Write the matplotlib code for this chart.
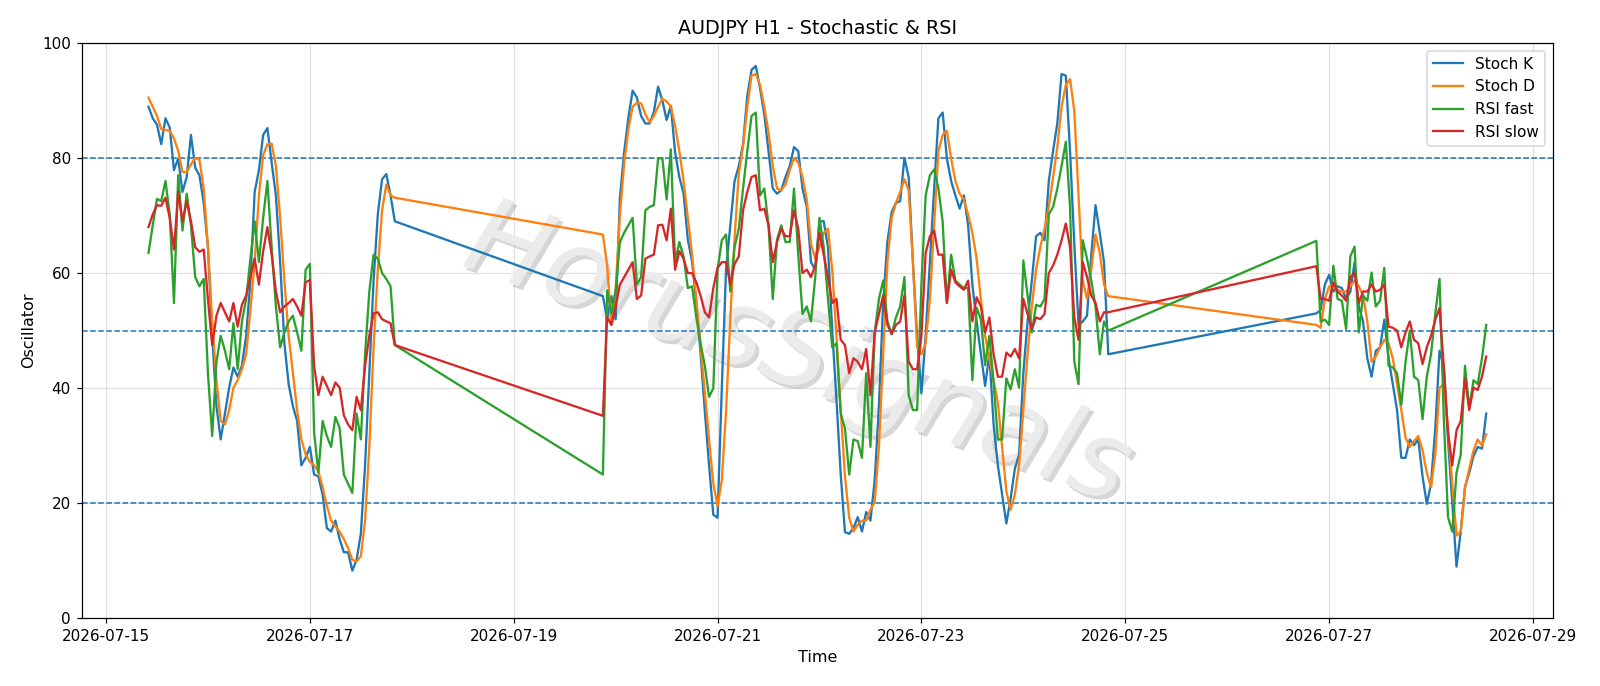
import numpy as np
import pandas as pd
import matplotlib
matplotlib.use("Agg")
import matplotlib.pyplot as plt
import matplotlib.dates as mdates
import matplotlib.patheffects as pe

# ---- data (hourly bars, three trading segments) ----
segment_starts = ["2026-07-15 10:00", "2026-07-19 21:00", "2026-07-26 21:00"]

stoch_k_seg1 = [88.9, 86.9, 85.8, 82.4, 86.9, 85.3, 77.9, 79.9, 74.1, 76.7,
                84.0, 78.3, 77.0, 72.2, 64.5, 49.1, 36.9, 31.1, 35.6, 40.1,
                43.6, 42.0, 43.9, 49.1, 58.7, 74.1, 77.9, 84.0, 85.2, 79.2,
                73.5, 61.9, 47.8, 40.7, 36.9, 34.3, 26.6, 27.9, 29.8, 25.0,
                24.7, 21.5, 15.7, 15.1, 17.0, 13.8, 11.5, 11.5, 8.3, 10.2,
                14.7, 26.6, 42.6, 58.7, 70.2, 76.3, 77.2, 73.5, 69.0]
stoch_d_seg1 = [90.5, 88.9, 87.3, 85.0, 84.9, 84.7, 83.4, 81.2, 77.6, 77.5,
                78.9, 80.0, 79.7, 74.7, 64.5, 51.6, 41.4, 34.3, 33.7, 36.2,
                40.1, 41.4, 43.3, 45.9, 53.6, 61.9, 73.5, 80.5, 82.4, 82.5,
                78.6, 69.6, 58.7, 49.1, 42.6, 36.2, 31.1, 28.5, 27.2, 26.6,
                25.6, 22.8, 19.6, 17.0, 16.0, 15.1, 13.8, 12.2, 10.2, 9.9,
                10.8, 17.0, 29.8, 47.1, 60.6, 70.9, 75.4, 73.5, 73.1]
rsi_fast_seg1 = [63.5, 68.3, 72.9, 72.5, 76.0, 70.2, 54.8, 77.0, 67.4, 73.8,
                 68.3, 59.3, 57.7, 59.0, 42.6, 31.7, 44.6, 49.1, 46.5, 43.3,
                 51.3, 43.3, 51.6, 55.5, 62.5, 69.0, 61.9, 69.6, 76.0, 64.5,
                 54.2, 47.1, 49.7, 51.6, 52.6, 49.7, 46.5, 60.6, 61.6, 32.3,
                 25.3, 34.3, 31.7, 29.8, 35.0, 33.1, 25.0, 23.4, 21.8, 35.6,
                 31.1, 45.9, 56.8, 63.2, 62.5, 60.0, 59.0, 57.7, 47.5]
rsi_slow_seg1 = [68.0, 70.2, 71.8, 71.7, 73.1, 69.6, 64.1, 74.1, 69.0, 72.5,
                 69.0, 64.5, 63.7, 64.1, 55.5, 47.5, 52.6, 54.8, 53.2, 51.6,
                 54.8, 50.7, 54.5, 56.1, 59.3, 62.5, 58.0, 63.8, 68.0, 63.2,
                 56.8, 53.2, 54.2, 54.8, 55.5, 54.2, 52.6, 58.4, 58.8, 43.9,
                 38.8, 42.0, 40.4, 38.8, 41.0, 40.1, 35.3, 33.7, 32.7, 38.5,
                 36.2, 43.9, 49.1, 53.0, 53.2, 52.0, 51.6, 51.3, 47.5]

stoch_k_seg2 = [56, 52, 56, 52, 73, 81, 87, 91.7, 90.5, 87.3,
                86, 86, 88, 92.4, 90, 86.6, 89, 81, 76.7, 73.8,
                65.8, 62, 54.8, 46, 36, 26.6, 18, 17.5, 40, 60.6,
                68.3, 76, 78.6, 82.4, 90.8, 95.3, 96, 92.1, 87.6, 81.2,
                74.7, 73.8, 74.4, 76.7, 78.6, 81.9, 81.2, 74.7, 71.5, 61.9,
                60.6, 69, 69, 64.5, 50, 38, 25, 15, 14.7, 15.7,
                17.6, 15.1, 18.5, 17, 24, 37, 55, 65.5, 70.6, 72.2,
                72.5, 80, 76.7, 61.9, 49, 39.1, 49.1, 61.9, 74.7, 86.9,
                87.9, 79.9, 76, 73.5, 71.2, 73.5, 68.3, 58, 51.6, 46,
                40.4, 46, 33.7, 26.6, 21.5, 16.5, 20.8, 26, 28.5, 42.6,
                51.6, 58.7, 66.4, 67, 65.7, 76, 81.2, 86, 94.6, 94.3,
                81.2, 65.1, 51, 51.6, 52.6, 63.2, 71.8, 67, 61.9, 45.9]
stoch_d_seg2 = [66.7, 61.3, 51, 57, 70, 79, 85, 88.9, 89.6, 89.5,
                87.6, 86.2, 87.3, 88.9, 90.3, 89.8, 89, 85.6, 81.2, 76,
                69.6, 63.2, 55.5, 47.1, 39.4, 31.1, 23.4, 19.5, 24, 36,
                52, 66, 77.3, 82, 88.9, 94.3, 94.6, 92.7, 88.9, 84.4,
                78.6, 74.7, 74.4, 75.4, 77.9, 80, 79.2, 76.7, 72.8, 65.1,
                62.5, 64.5, 67, 67.7, 60.6, 49.1, 36.2, 24.7, 17.5, 15.1,
                16.3, 17, 17, 18.9, 20.2, 29.8, 45.9, 61.9, 69.6, 72.2,
                74.1, 76.3, 74.4, 61.9, 47, 45.9, 47.8, 55.5, 68.3, 81.2,
                84, 84.7, 79.9, 76, 73.8, 72.8, 70.2, 67, 62.5, 55.5,
                49.1, 45.2, 41.4, 37.5, 29.8, 22.1, 18.9, 21.5, 26.6, 36.2,
                45.9, 54.2, 60.6, 64.5, 67.7, 71.5, 76.7, 81.8, 88.9, 92.7,
                93.7, 88.2, 73.5, 58.7, 55.5, 60.6, 66.7, 63.5, 58, 56]
rsi_fast_seg2 = [25, 57, 53, 57, 65.4, 67, 68.3, 69.6, 58, 59.3,
                 70.9, 71.5, 71.8, 79.9, 80, 72.8, 81.5, 61.9, 65.4, 62.9,
                 57.4, 57.7, 52.3, 47.8, 43.9, 38.5, 40, 60.6, 65.7, 66.7,
                 56.8, 64.5, 67.7, 74.7, 81.2, 87.3, 87.9, 73.5, 74.7, 68.3,
                 55.5, 65.8, 68.3, 65.4, 65.4, 74.7, 63.2, 52.9, 54.2, 51.6,
                 59.3, 69.6, 64.5, 55.5, 47.1, 47.8, 35.6, 33, 25, 31.1,
                 30.8, 27.9, 42.6, 29.8, 49.7, 55.5, 58.7, 51.6, 49.4, 52.3,
                 54.2, 59.3, 38.8, 36.2, 36.2, 58, 73.5, 77, 78, 74.7,
                 69, 54.8, 63.2, 58.7, 58, 57.4, 57.4, 41.4, 54, 52,
                 44, 49.1, 41, 31.1, 31.1, 41.7, 39.8, 43.3, 40.1, 62.2,
                 56.1, 49.7, 54.5, 54.2, 55.5, 70.2, 71.5, 74.7, 78.6, 82.8,
                 71.5, 44.6, 40.7, 65.7, 62.5, 58.7, 54.2, 45.9, 51.6, 50]
rsi_slow_seg2 = [35.2, 52.3, 51, 54.2, 58, 59.3, 60.6, 61.9, 55.5, 56.1,
                 62.5, 62.9, 63.2, 68.3, 68.4, 65.7, 71.2, 60.6, 63.8, 62.5,
                 60, 60, 58.4, 56.1, 53.2, 52.3, 57.4, 60.9, 61.9, 61.9,
                 58, 61.6, 62.9, 70.9, 74.1, 76.7, 77, 70.9, 71.2, 68.3,
                 61.9, 65.4, 67.7, 66.4, 66.4, 70.9, 67.7, 60, 60.6, 59.3,
                 61.3, 67, 63.2, 59.3, 54.8, 55.5, 48.4, 47.5, 42.6, 45.2,
                 44.6, 43.3, 46.8, 38.8, 49.7, 52.9, 56.1, 51, 49.4, 51,
                 51.6, 56.1, 44.6, 43.3, 43.3, 49.1, 63.5, 66.4, 67.4, 63.2,
                 63.2, 54.8, 60.6, 58.4, 57.7, 57.1, 58.7, 51.6, 55.8, 54.2,
                 49.7, 52.3, 45.9, 42, 42, 46.2, 45.5, 46.8, 45.2, 55.5,
                 52.9, 50.3, 52.3, 52, 52.9, 60, 61.3, 63.2, 65.7, 68.6,
                 64.5, 52.3, 48.4, 61.9, 59.3, 56.1, 54.8, 51.6, 53.2, 53.2]

stoch_k_seg3 = [53, 53.6, 58, 59.7, 56.8, 57.7, 57.4, 55.5, 56.8, 61.9,
                54.2, 51.6, 45.2, 42, 46.5, 47.1, 51.9, 45.2, 40.7, 36.2,
                27.9, 27.9, 31.1, 30.1, 31.1, 24.7, 19.9, 23.4, 33, 46.5,
                43.9, 31, 20.2, 9, 15.1, 22.8, 25.3, 28.2, 29.8, 29.5,
                35.6]
stoch_d_seg3 = [51, 50.5, 55.5, 57.7, 57.7, 57.1, 56.8, 56.8, 57.7, 58.7,
                57.7, 56.1, 51.6, 44.6, 45.5, 47.1, 48.4, 47.8, 45.2, 40.7,
                36.2, 31.4, 29.8, 30.8, 31.7, 29.2, 25.3, 22.8, 28.5, 40.1,
                40.7, 33, 23.4, 14.4, 15.1, 22.8, 26, 29.2, 31.1, 30,
                32]
rsi_fast_seg3 = [65.6, 51.6, 51.9, 51, 61.3, 55.5, 55.2, 50.3, 62.9, 64.6,
                 49.7, 56.1, 55.2, 60.1, 54.2, 55.2, 60.9, 43.9, 43.6, 42.6,
                 37.1, 44.6, 50, 42, 41.4, 34.6, 42, 45.9, 52.9, 59,
                 35, 17.6, 15.1, 25.3, 28.5, 43.9, 36.5, 41.4, 40.7, 45.2,
                 51]
rsi_slow_seg3 = [61.2, 55.5, 55.5, 55.2, 58.4, 56.8, 56.1, 55.2, 59.3, 60,
                 54.8, 56.8, 56.8, 58, 56.8, 57.1, 58, 50.7, 50.5, 50,
                 47.1, 49.7, 51.6, 48.4, 47.8, 44.2, 47.1, 49.1, 51.9, 53.9,
                 43.9, 32.3, 26.6, 32.7, 34.3, 41.7, 36.2, 40.1, 39.7, 42,
                 45.5]

levels = [80, 50, 20]
tick_dates = ["2026-07-15", "2026-07-17", "2026-07-19", "2026-07-21",
              "2026-07-23", "2026-07-25", "2026-07-27", "2026-07-29"]

# ---- assemble ----
seg_k = [stoch_k_seg1, stoch_k_seg2, stoch_k_seg3]
seg_d = [stoch_d_seg1, stoch_d_seg2, stoch_d_seg3]
seg_f = [rsi_fast_seg1, rsi_fast_seg2, rsi_fast_seg3]
seg_s = [rsi_slow_seg1, rsi_slow_seg2, rsi_slow_seg3]

times = pd.DatetimeIndex(np.concatenate([
    pd.date_range(s, periods=len(k), freq="h").values
    for s, k in zip(segment_starts, seg_k)]))
stoch_k = np.concatenate(seg_k)
stoch_d = np.concatenate(seg_d)
rsi_fast = np.concatenate(seg_f)
rsi_slow = np.concatenate(seg_s)

DPI = 110
fig = plt.figure(figsize=(1600 / DPI, 686 / DPI), dpi=DPI)
ax = fig.add_axes([0.051, 0.0985, 0.9197, 0.839])

ax.plot(times, stoch_k, color="#1f77b4", lw=1.5, label="Stoch K", zorder=3)
ax.plot(times, stoch_d, color="#ff7f0e", lw=1.5, label="Stoch D", zorder=3)
ax.plot(times, rsi_fast, color="#2ca02c", lw=1.5, label="RSI fast", zorder=3)
ax.plot(times, rsi_slow, color="#d62728", lw=1.5, label="RSI slow", zorder=3)

for lv in levels:
    ax.axhline(lv, color="#1f77b4", ls="--", lw=1.0, zorder=2)

ax.set_ylim(0, 100)
ax.set_xticks(pd.to_datetime(tick_dates))
ax.xaxis.set_major_formatter(mdates.DateFormatter("%Y-%m-%d"))
ax.grid(True, color="#cccccc", alpha=0.6, lw=0.8, zorder=0)
ax.set_axisbelow(True)

ax.set_title("AUDJPY H1 - Stochastic & RSI", fontsize=12.5)
ax.set_xlabel("Time", fontsize=10.5)
ax.set_ylabel("Oscillator", fontsize=10.5)
ax.tick_params(labelsize=10)

ax.text(0.487, 0.455, "HorusSignals", transform=ax.transAxes,
        fontsize=70, style="italic", color="#ebebeb",
        rotation=-20, ha="center", va="center", zorder=1,
        path_effects=[pe.SimplePatchShadow(offset=(2.5, -2.5), shadow_rgbFace="#8c8c8c", alpha=0.35),
                      pe.Normal()])

ax.legend(loc="upper right", fontsize=10)

fig.savefig("out.png", dpi=DPI)
